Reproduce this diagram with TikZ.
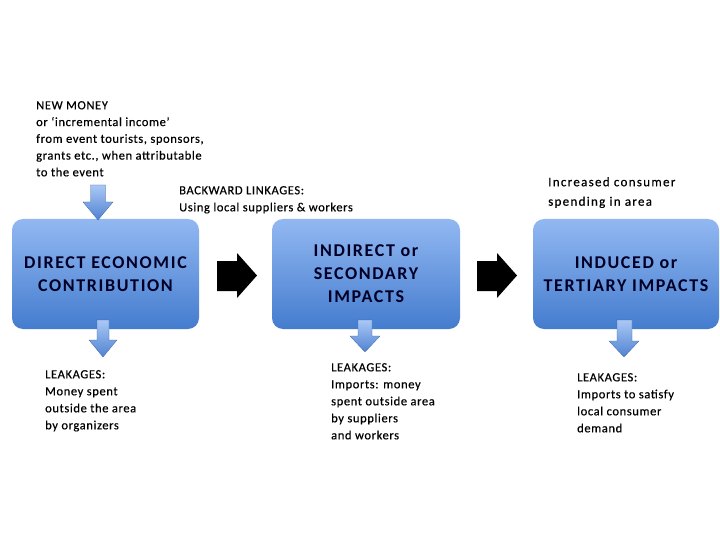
\documentclass[tikz,border=0pt]{standalone}
\usepackage{fontspec}
\setmainfont{Carlito}
\begin{document}
\begin{tikzpicture}[x=1pt,y=-1pt,
  box/.style={rounded corners=11pt, top color=boxtop, bottom color=boxbot},
  boxtext/.style={align=center, font=\fontsize{18}{23}\selectfont\bfseries\addfontfeatures{LetterSpace=9}, text=black!85!blue},
  note/.style={align=left, anchor=north west, inner sep=0pt, font=\fontsize{12.5}{17}\selectfont\addfontfeatures{LetterSpace=5,FakeBold=0.4}},
  bluearrow/.style={top color=arrtop, bottom color=arrbot, draw=arrbot!80!black, line width=0.3pt},
  blackarrow/.style={fill=black}]
\definecolor{boxtop}{RGB}{146,184,242}
\definecolor{boxbot}{RGB}{68,124,206}
\definecolor{arrtop}{RGB}{170,200,245}
\definecolor{arrbot}{RGB}{80,130,210}
\useasboundingbox (0,0) rectangle (720,540);
\fill[white] (0,0) rectangle (720,540);

% boxes
\path[box] (12,219) rectangle (199,329);
\path[box] (272,219) rectangle (460,329);
\path[box] (533,219) rectangle (719,329);
\node[boxtext] (b1) at (105.5,274) {DIRECT ECONOMIC\\CONTRIBUTION};
\node[boxtext] (b2) at (366,274) {INDIRECT or\\SECONDARY\\IMPACTS};
\node[boxtext] (b3) at (626,274) {INDUCED or\\TERTIARY IMPACTS};

% black arrows
\fill[blackarrow] (217,261) -- (237,261) -- (237,253) -- (257,275.5) -- (237,298) -- (237,291) -- (217,291) -- cycle;
\fill[blackarrow] (477,261) -- (497,261) -- (497,253) -- (517,275.5) -- (497,298) -- (497,291) -- (477,291) -- cycle;

% blue down arrows
\path[bluearrow] (90.5,185) -- (105.5,185) -- (105.5,202) -- (113,202) -- (98,220) -- (83,202) -- (90.5,202) -- cycle;
\path[bluearrow] (97,320) -- (109,320) -- (109,340) -- (117,340) -- (103,357) -- (89,340) -- (97,340) -- cycle;
\path[bluearrow] (358,320) -- (372,320) -- (372,336) -- (380,336) -- (365,352) -- (350,336) -- (358,336) -- cycle;
\path[bluearrow] (617,320) -- (632,320) -- (632,341) -- (639,341) -- (624,357) -- (609,341) -- (617,341) -- cycle;

% notes
\node[note, font=\fontsize{12.5}{16.75}\selectfont\addfontfeatures{LetterSpace=5,FakeBold=0.4}] (newmoney) at (36,101) {NEW MONEY\\or ‘incremental income’\\from event tourists, sponsors,\\grants etc., when attributable\\to the event};
\node[note] (backward) at (179,186) {BACKWARD LINKAGES:\\Using local suppliers \& workers};
\node[note, font=\fontsize{13}{19.5}\selectfont\addfontfeatures{LetterSpace=10,FakeBold=0.4}] (consumer) at (548,177) {Increased consumer\\spending in area};
\node[note] (leak1) at (45,370) {LEAKAGES:\\Money spent\\outside the area\\by organizers};
\node[note] (leak2) at (331,363) {LEAKAGES:\\Imports: money\\spent outside area\\by suppliers\\and workers};
\node[note] (leak3) at (577,373) {LEAKAGES:\\Imports to satisfy\\local consumer\\demand};
\end{tikzpicture}
\end{document}
